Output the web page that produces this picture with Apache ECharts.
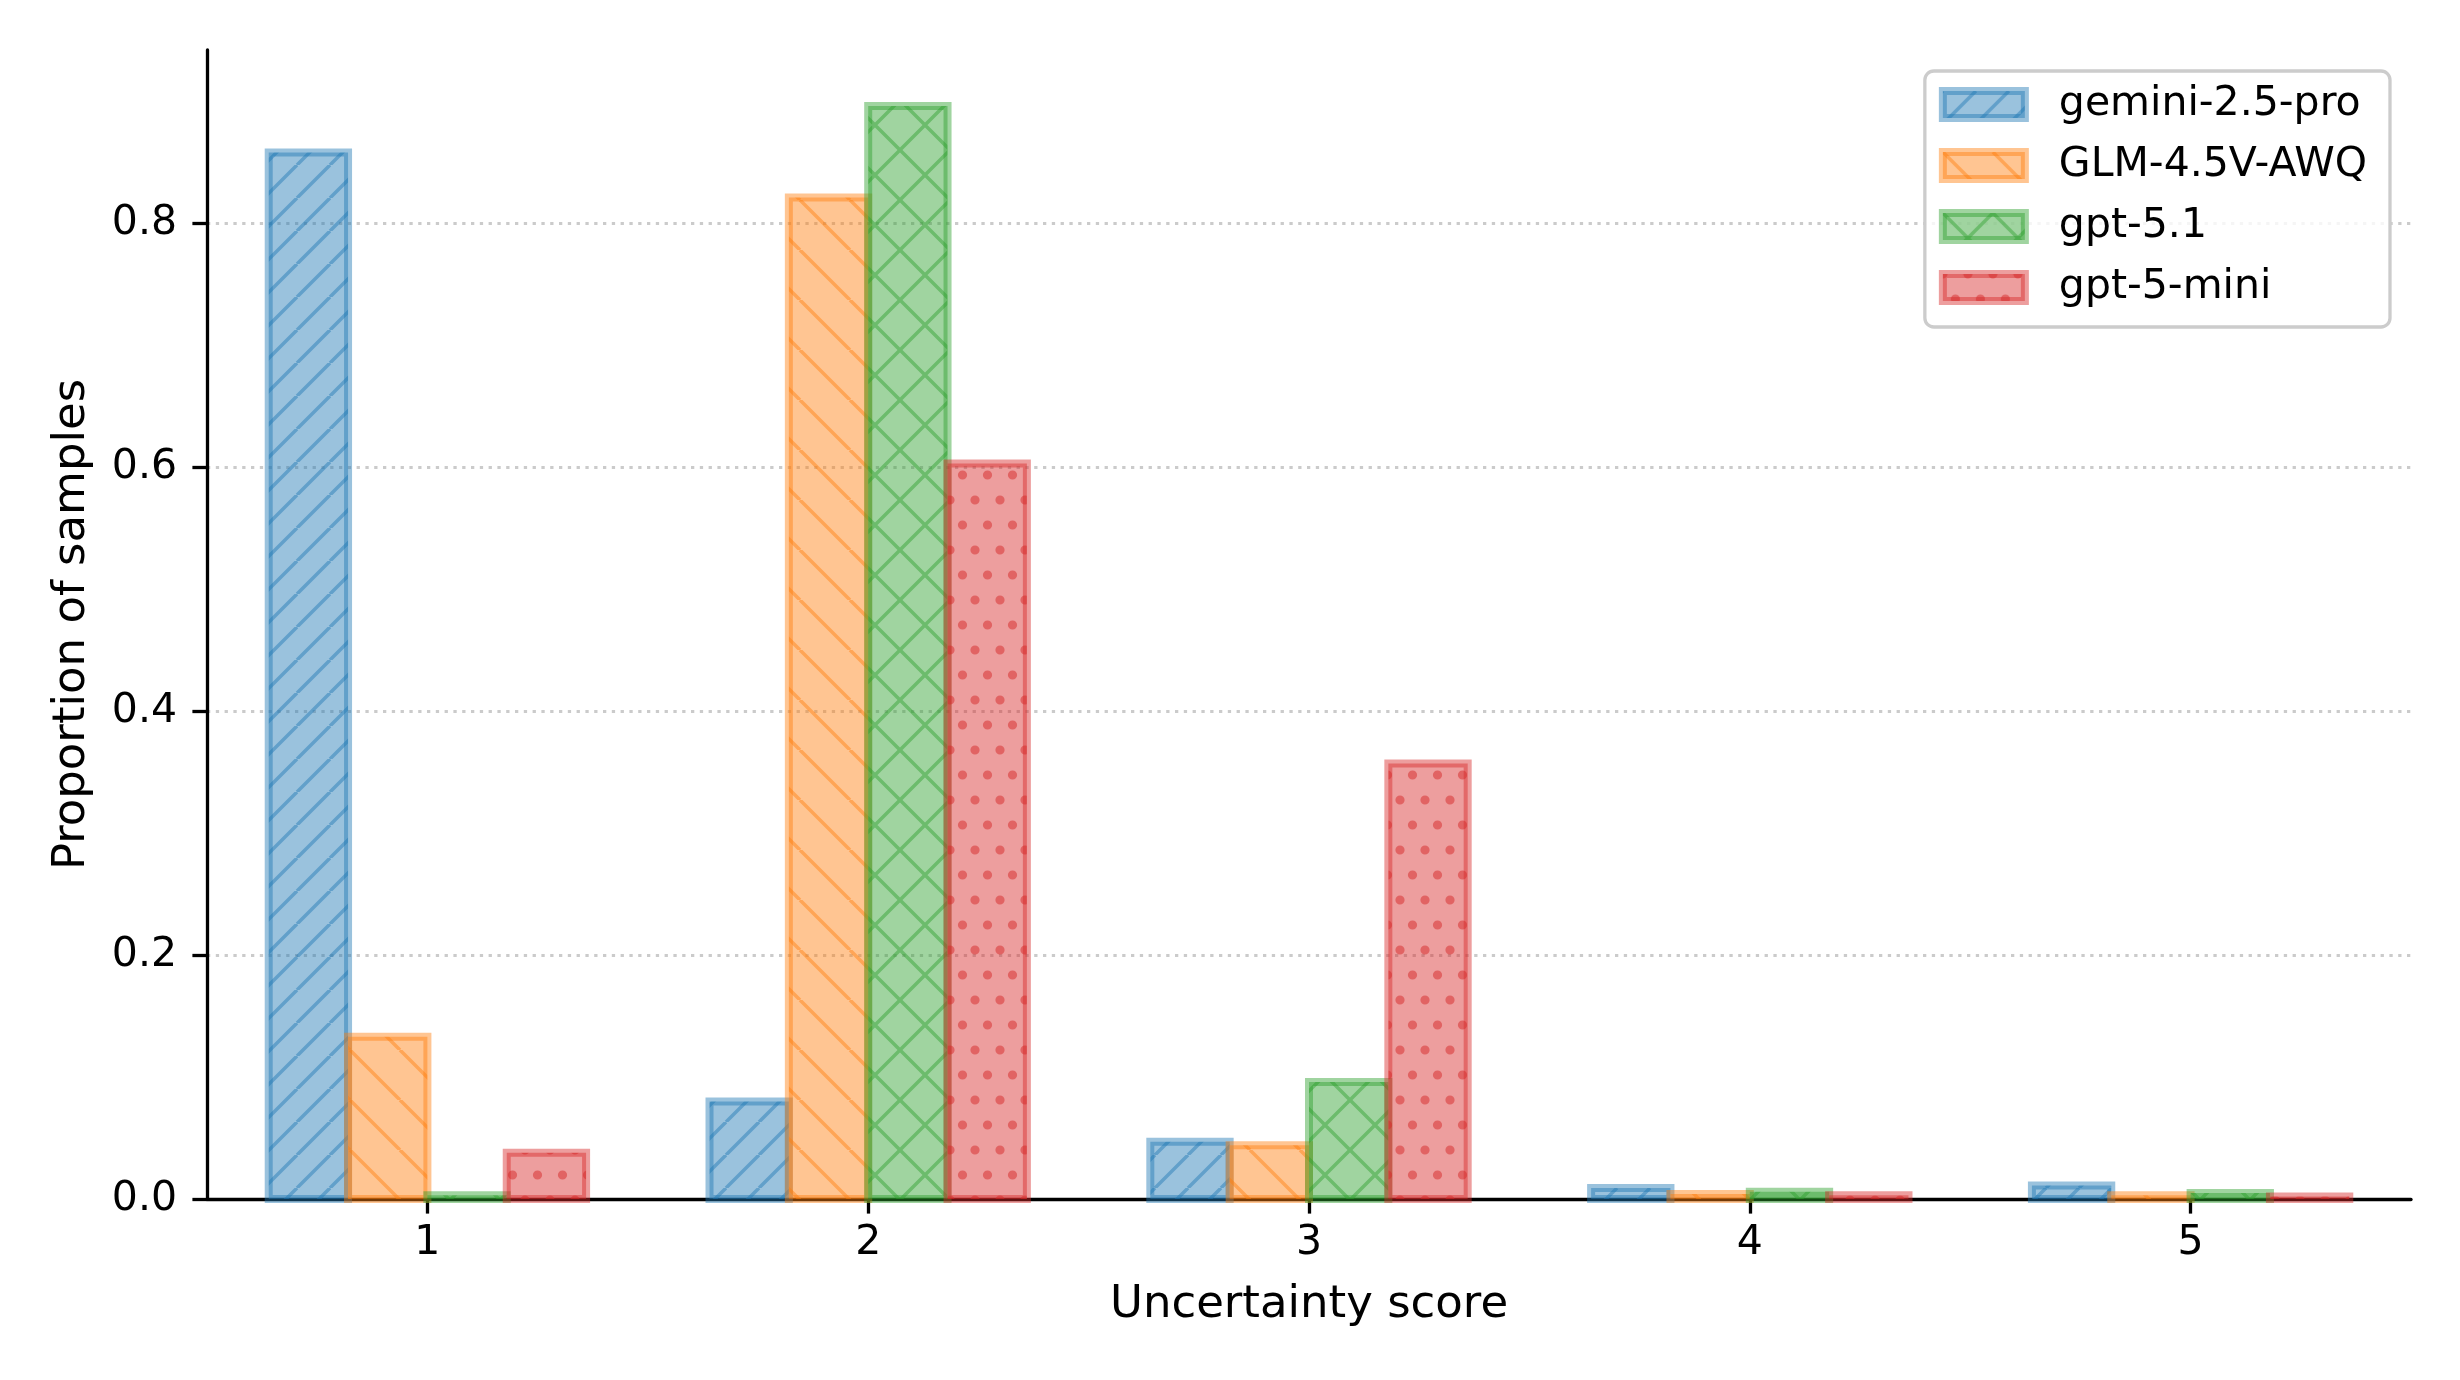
<!DOCTYPE html>
<html>
<head>
<meta charset="utf-8">
<script src="https://cdn.jsdelivr.net/npm/echarts@6/dist/echarts.min.js"></script>
<style>
html,body{margin:0;padding:0;background:#ffffff;}
#chart{width:2460px;height:1380px;}
</style>
</head>
<body>
<div id="chart"></div>
<script>
// ---- data ----
const categories = ['1', '2', '3', '4', '5'];
const modelNames = ['gemini-2.5-pro', 'GLM-4.5V-AWQ', 'gpt-5.1', 'gpt-5-mini'];
const geminiValues = [0.858, 0.080, 0.047, 0.009, 0.011];
const glmValues = [0.133, 0.821, 0.044, 0.004, 0.003];
const gpt51Values = [0.003, 0.896, 0.096, 0.006, 0.005];
const gpt5miniValues = [0.038, 0.603, 0.357, 0.003, 0.002];
const yTickValues = [0, 0.2, 0.4, 0.6, 0.8];
const yMax = 0.942;

// ---- styles ----
const seriesRGB = ['31,119,180', '255,127,14', '44,160,44', '214,39,40'];
const hatchKinds = ['/', '\\', 'x', 'dots'];
const hatchPeriods = [33, 50, 50, 25];
const BAR_FRACTION = 0.18;
const FONT = 'DejaVu Sans';

function makeHatch(rgb, kind, p) {
  const c = document.createElement('canvas');
  const w = p, h = kind === 'dots' ? 2 * p : p;
  c.width = w; c.height = h;
  const g = c.getContext('2d');
  g.fillStyle = 'rgba(' + rgb + ',0.45)';
  g.fillRect(0, 0, w, h);
  g.strokeStyle = 'rgba(' + rgb + ',0.45)';
  g.fillStyle = 'rgba(' + rgb + ',0.5)';
  g.lineWidth = 3.5;
  if (kind === '/' || kind === '\\' || kind === 'x') {
    g.beginPath();
    for (let k = -1; k <= 1; k++) {
      if (kind === '/' || kind === 'x') { g.moveTo(k * p, p); g.lineTo(k * p + p, 0); }
      if (kind === '\\' || kind === 'x') { g.moveTo(k * p, 0); g.lineTo(k * p + p, p); }
    }
    g.stroke();
  } else {
    const r = 4.6;
    const pts = [[0, 0], [p, 0], [0, 2 * p], [p, 2 * p], [p / 2, p]];
    g.beginPath();
    pts.forEach(function (q) { g.moveTo(q[0] + r, q[1]); g.arc(q[0], q[1], r, 0, Math.PI * 2); });
    g.fill();
  }
  return { image: c, repeat: 'repeat' };
}

const allValues = [geminiValues, glmValues, gpt51Values, gpt5miniValues];
const nSeries = allValues.length;

function makeRender(si, fill, stroke) {
  return function (params, api) {
    const cat = api.value(0);
    const val = api.value(1);
    const base = api.coord([cat, 0]);
    const top = api.coord([cat, val]);
    const band = api.size([1, 0])[0];
    const bw = band * BAR_FRACTION;
    const x = base[0] - bw * nSeries / 2 + si * bw;
    return {
      type: 'rect',
      shape: { x: x, y: top[1], width: bw, height: base[1] - top[1] },
      style: { fill: fill, stroke: stroke, lineWidth: 8 }
    };
  };
}

const series = allValues.map(function (vals, si) {
  const fill = makeHatch(seriesRGB[si], hatchKinds[si], hatchPeriods[si]);
  const stroke = 'rgba(' + seriesRGB[si] + ',0.45)';
  return {
    type: 'custom',
    name: modelNames[si],
    data: vals.map(function (v, i) { return [i, v]; }),
    encode: { x: 0, y: 1 },
    renderItem: makeRender(si, fill, stroke),
    itemStyle: { color: fill, borderColor: stroke, borderWidth: 8 },
    silent: true,
    z: 2
  };
});

const chart = echarts.init(document.getElementById('chart'), null, { renderer: 'canvas' });
chart.setOption({
  animation: false,
  backgroundColor: '#ffffff',
  textStyle: { fontFamily: FONT },
  grid: { left: 207, right: 49, top: 50, bottom: 181, containLabel: false },
  legend: {
    orient: 'vertical',
    right: 70,
    top: 71,
    icon: 'rect',
    itemWidth: 82,
    itemHeight: 27,
    itemGap: 20,
    padding: [13, 23, 19, 14],
    backgroundColor: 'rgba(255,255,255,0.8)',
    borderColor: '#cccccc',
    borderWidth: 3.3,
    borderRadius: 9,
    itemStyle: { borderWidth: 8 },
    textStyle: { fontSize: 41, fontFamily: FONT, color: '#000', lineHeight: 41, padding: [0, 0, 0, 29] },
    data: modelNames
  },
  xAxis: {
    type: 'category',
    data: categories,
    boundaryGap: true,
    axisLine: { show: true, onZero: false, lineStyle: { color: '#000', width: 3.3 } },
    axisTick: { show: true, alignWithLabel: true, length: 14.6, lineStyle: { color: '#000', width: 3.3 } },
    axisLabel: { fontSize: 41, fontFamily: FONT, color: '#000', margin: 24 },
    splitLine: { show: false },
    name: 'Uncertainty score',
    nameLocation: 'middle',
    nameGap: 84,
    nameTextStyle: { fontSize: 45, fontFamily: FONT, color: '#000' }
  },
  yAxis: {
    type: 'value',
    min: 0,
    max: yMax,
    interval: 0.2,
    axisLine: { show: true, lineStyle: { color: '#000', width: 3.3 } },
    axisTick: { show: true, length: 14.6, customValues: yTickValues, lineStyle: { color: '#000', width: 3.3 } },
    axisLabel: {
      customValues: yTickValues,
      fontSize: 41, fontFamily: FONT, color: '#000', margin: 30,
      formatter: function (v) { return Number(v).toFixed(1); }
    },
    splitLine: { show: true, lineStyle: { color: '#cbcbcb', width: 3, type: [3.3, 5.5] } },
    name: 'Proportion of samples',
    nameLocation: 'middle',
    nameGap: 112,
    nameTextStyle: { fontSize: 45, fontFamily: FONT, color: '#000' }
  },
  series: series
});
</script>
</body>
</html>
